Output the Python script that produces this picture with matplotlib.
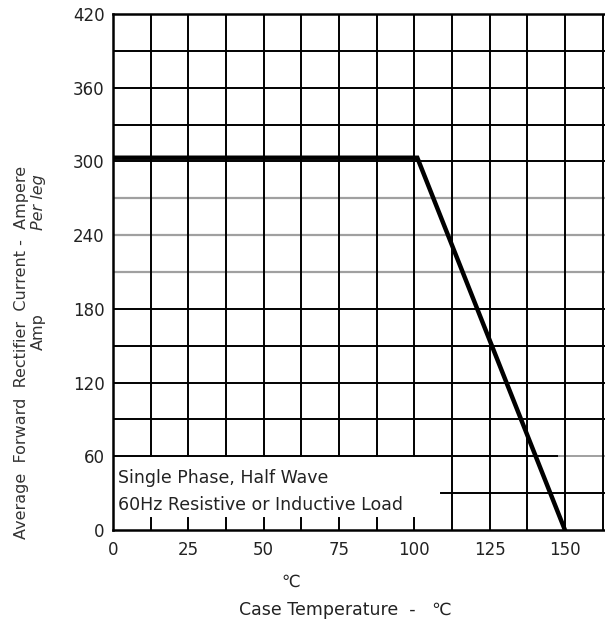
import numpy as np
import matplotlib
matplotlib.use("Agg")
import matplotlib.pyplot as plt

plt.rcParams['font.family'] = ['Liberation Sans Narrow', 'DejaVu Sans']

# =========================
# DADOS
# =========================
temp = [0, 101, 150]           # Case temperature (C)
current = [303, 303, 0]        # Average forward current (A)
xticks = [0, 25, 50, 75, 100, 125, 150]
yticks = [0, 60, 120, 180, 240, 300, 360, 420]
gray_rows = [210, 240, 270]

fig = plt.figure(figsize=(6.05, 6.27), dpi=100)
ax = fig.add_axes([0.1868, 0.1547, 0.8132, 0.823])
ax.set_xlim(0, 163.3)
ax.set_ylim(0, 420)

# =========================
# GRADE
# =========================
xmax = 163.3
for y in range(30, 421, 30):
    if y in gray_rows:
        ax.plot([0, xmax], [y, y], color="#a0a0a0", lw=1.6, zorder=1)
    elif y == 30:
        ax.plot([109, xmax], [y, y], color="black", lw=1.4, zorder=1)
    elif y == 60:
        ax.plot([0, 148], [y, y], color="black", lw=1.4, zorder=1)
        ax.plot([148, xmax], [y, y], color="#a0a0a0", lw=1.4, zorder=1)
    else:
        ax.plot([0, xmax], [y, y], color="black", lw=1.4, zorder=1)

for k in range(1, 14):
    x = 12.5 * k
    if x <= 100:
        ax.plot([x, x], [60, 420], color="black", lw=1.4, zorder=1)
        ax.plot([x, x], [0, 10], color="black", lw=1.4, zorder=1)
    else:
        ax.plot([x, x], [0, 420], color="black", lw=1.4, zorder=1)

# curva
ax.plot(temp, current, color="black", lw=3.2, solid_joinstyle="miter", zorder=3)

# =========================
# EIXOS
# =========================
ax.spines["right"].set_visible(False)
for s in ["left", "bottom", "top"]:
    ax.spines[s].set_linewidth(1.8)

ax.set_xticks(xticks)
ax.set_yticks(yticks)
ax.tick_params(length=0, labelsize=12, pad=6, labelcolor="#222222")
ax.tick_params(axis="x", pad=8)
ax.set_xticklabels([str(v) for v in xticks])

ax.text(1.7, 42, "Single Phase, Half Wave", fontsize=12.5, va="center",
        color="#222222")
ax.text(1.7, 20, "60Hz Resistive or Inductive Load", fontsize=12.5,
        va="center", color="#222222")

# rotulos
fig.text(0.035, 0.4386, "Average  Forward  Rectifier  Current -  Ampere",
         rotation=90, ha="center", va="center", fontsize=11.5, color="#333333")
fig.text(0.064, 0.471, "Amp", rotation=90, ha="center", va="center",
         fontsize=11.5, color="#333333")
fig.text(0.064, 0.678, "Per leg", rotation=90, ha="center", va="center",
         fontsize=11.5, style="italic", color="#333333")

fig.text(0.48, 0.072, "\u2103", ha="center", va="center", fontsize=12,
         family=['DejaVu Sans'], color="#222222")
fig.text(0.57, 0.027, "Case Temperature  -   \u2103", ha="center",
         va="center", fontsize=12.5, color="#222222")

fig.savefig("out.png", dpi=100)
